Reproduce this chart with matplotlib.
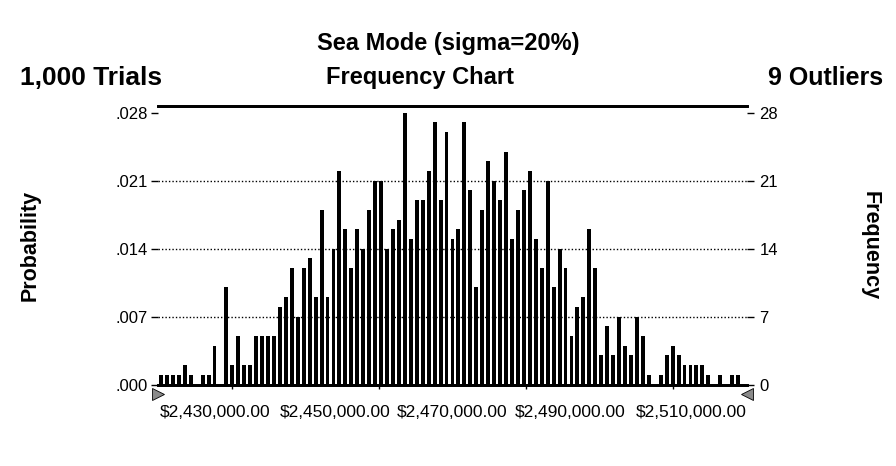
import matplotlib
matplotlib.use("Agg")
import matplotlib.pyplot as plt
import matplotlib.transforms as mtransforms
import numpy as np

plt.rcParams['font.family'] = ['Liberation Sans', 'DejaVu Sans']

# frequency counts per cell (1,000 trials, 9 outliers outside the range)
counts = [1, 1, 1, 1, 2, 1, 0, 1, 1, 4, 0, 10, 2, 5, 2, 2, 5, 5, 5, 5,
          8, 9, 12, 7, 12, 13, 9, 18, 9, 14, 22, 16, 12, 16, 14, 18, 21, 21, 14, 16,
          17, 28, 15, 19, 19, 22, 27, 19, 26, 15, 16, 27, 20, 10, 18, 23, 21, 19, 24, 15,
          18, 20, 22, 15, 12, 21, 10, 14, 12, 5, 8, 9, 16, 12, 3, 6, 3, 7, 4, 3,
          7, 5, 1, 0, 1, 3, 4, 3, 2, 2, 2, 2, 1, 0, 1, 0, 1, 1, 0]
x_min = 2430000
x_max = 2510000
trials = 1000
freq_ticks = [0, 7, 14, 21, 28]
x_label_vals = [2430000, 2450000, 2470000, 2490000, 2510000]

edges = np.linspace(x_min, x_max, len(counts) + 1)
centers = (edges[:-1] + edges[1:]) / 2
width = edges[1] - edges[0]

fig = plt.figure(figsize=(8.96, 4.66), dpi=100)
ax = fig.add_axes([0.1763, 0.1747, 0.6574, 0.598])
ax2 = ax.twinx()

ax2.bar(centers, counts, width=width * 0.66, color='black', zorder=3)
ax2.set_ylim(0, 28.7)
ax.set_ylim(0, 28.7 / trials)
ax.set_xlim(x_min, x_max)

for t in freq_ticks[1:-1]:
    ax2.axhline(t, color='black', lw=1.0, ls=(0, (1, 1.5)), zorder=1)

ax2.set_yticks(freq_ticks)
ax2.set_yticklabels([str(t) for t in freq_ticks])
ax.set_yticks([t / trials for t in freq_ticks])
ax.set_yticklabels(['.%03d' % t for t in freq_ticks])

for a in (ax, ax2):
    a.spines['left'].set_visible(False)
    a.spines['right'].set_visible(False)
    a.spines['top'].set_linewidth(2)
    a.spines['bottom'].set_linewidth(2)
ax.tick_params(axis='y', length=5, width=1, labelsize=12, pad=2)
ax2.tick_params(axis='y', length=5, width=1, labelsize=12, pad=4)

# x axis: small ticks every 10,000, labels spread along the axis
ax.set_xticks(np.arange(x_min, x_max + 1, 10000), minor=True)
ax.tick_params(axis='x', which='minor', length=3, width=1)
ax.set_xticks(x_label_vals)
ax.set_xticklabels(['${:,.2f}'.format(v) for v in x_label_vals])
ax.tick_params(axis='x', which='major', length=0, labelsize=12.5, pad=15)
shifts = [2, 30, 0, -30, 0]
aligns = ['left', 'center', 'center', 'center', 'right']
for lab, dx, ha in zip(ax.get_xticklabels(), shifts, aligns):
    lab.set_ha(ha)
    lab.set_transform(lab.get_transform() +
                      mtransforms.ScaledTranslation(dx / 100, 0, fig.dpi_scale_trans))

# range markers under the axis ends
trans = mtransforms.blended_transform_factory(ax.transData, ax.transAxes)
ax.plot([x_min], [-0.035], marker='>', ms=9, color='#8a8a8a', mec='black', mew=0.6,
        transform=trans, clip_on=False)
ax.plot([x_max], [-0.035], marker='<', ms=9, color='#8a8a8a', mec='black', mew=0.6,
        transform=trans, clip_on=False)

ax.set_ylabel('Probability', fontsize=15.5, fontweight='bold', labelpad=54)
ax2.set_ylabel('Frequency', fontsize=15.5, fontweight='bold', rotation=-90, labelpad=74)

fig.text(0.5, 0.907, 'Sea Mode (sigma=20%)', ha='center', va='center',
         fontsize=17, fontweight='bold')
fig.text(0.022, 0.833, '1,000 Trials', ha='left', va='center', fontsize=19, fontweight='bold')
fig.text(0.469, 0.833, 'Frequency Chart', ha='center', va='center', fontsize=17, fontweight='bold')
fig.text(0.986, 0.833, '9 Outliers', ha='right', va='center', fontsize=18, fontweight='bold')

fig.savefig('out.png', dpi=100)
